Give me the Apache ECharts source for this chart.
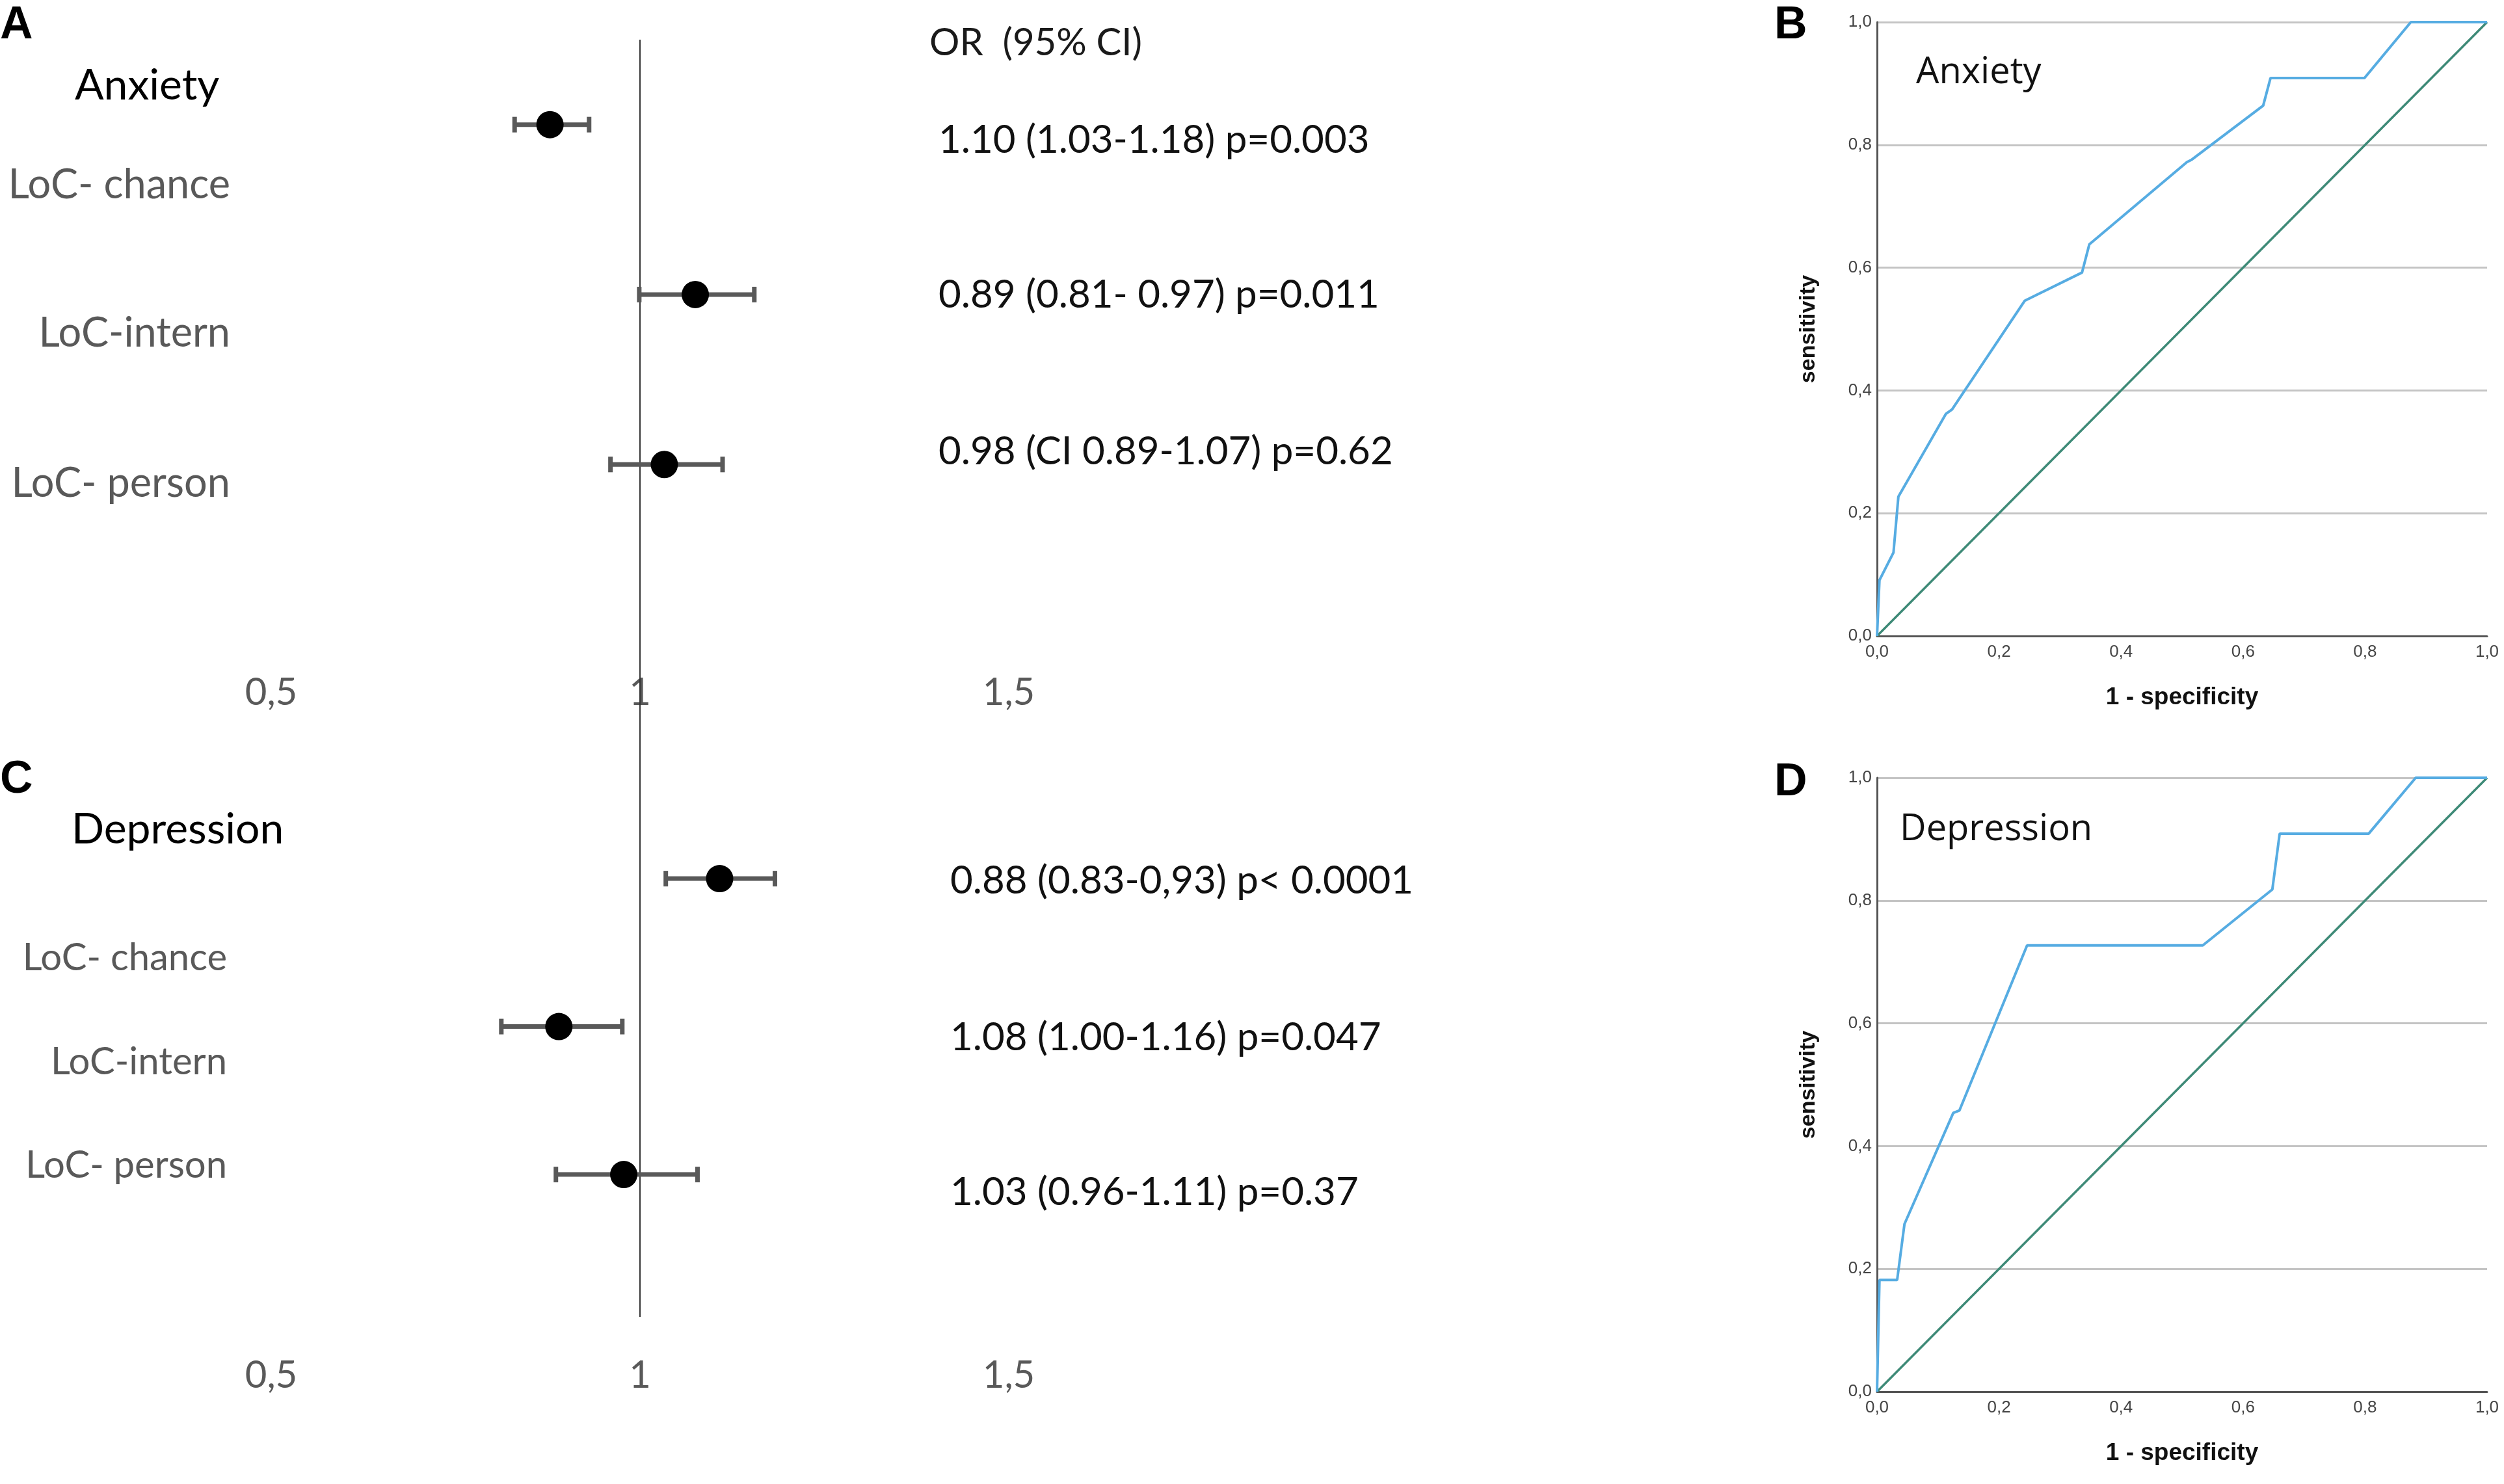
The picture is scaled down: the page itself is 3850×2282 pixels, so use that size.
<!DOCTYPE html>
<html>
<head>
<meta charset="utf-8">
<title>LoC forest plots and ROC curves</title>
<script src="https://cdn.jsdelivr.net/npm/echarts@6/dist/echarts.min.js"></script>
<style>
  html, body { margin: 0; padding: 0; background: #fff; }
  #main { width: 3850px; height: 2282px; }
</style>
</head>
<body>
<div id="main"></div>
<script>
// rows of the forest plots
var forestRows = ['LoC- chance', 'LoC-intern', 'LoC- person'];
var forestTicks = [0.5, 1, 1.5];

// panel A (anxiety) points and whiskers as drawn
var anxOr = [0.878, 1.075, 1.033];
var anxLo = [0.830, 0.999, 0.960];
var anxHi = [0.931, 1.155, 1.112];
var anxText = ['1.10 (1.03-1.18) p=0.003', '0.89 (0.81- 0.97) p=0.011', '0.98 (CI 0.89-1.07) p=0.62'];

// panel C (depression)
var depOr = [1.108, 0.890, 0.978];
var depLo = [1.035, 0.812, 0.886];
var depHi = [1.183, 0.976, 1.078];
var depText = ['0.88 (0.83-0,93) p< 0.0001', '1.08 (1.00-1.16) p=0.047', '1.03 (0.96-1.11) p=0.37'];

// ROC curves, 1 - specificity / sensitivity
var rocTicks = [0, 0.2, 0.4, 0.6, 0.8, 1];
var anxFpr = [0, 0.004, 0.027, 0.035, 0.113, 0.123, 0.242, 0.336, 0.348, 0.508, 0.516, 0.633, 0.645, 0.799, 0.875, 1];
var anxTpr = [0, 0.091, 0.136, 0.227, 0.362, 0.369, 0.546, 0.592, 0.638, 0.772, 0.776, 0.864, 0.909, 0.909, 1, 1];
var depFpr = [0, 0.004, 0.033, 0.045, 0.125, 0.135, 0.246, 0.534, 0.648, 0.660, 0.806, 0.883, 1];
var depTpr = [0, 0.182, 0.182, 0.273, 0.454, 0.458, 0.727, 0.727, 0.818, 0.909, 0.909, 1, 1];

var chart = echarts.init(document.getElementById('main'));

var lato = 'Lato, "Open Sans", sans-serif';
var arial = '"Liberation Sans", Arial, sans-serif';

function zip(a, b) {
  return a.map(function (v, i) { return [v, b[i]]; });
}
function rowsOf(arr) {
  return arr.map(function (v, i) { return [v, i + 1]; });
}
function barsOf(lo, hi) {
  return lo.map(function (v, i) { return [v, hi[i], i + 1]; });
}

// whisker with end caps
function renderWhisker(params, api) {
  var a = api.coord([api.value(0), api.value(2)]);
  var b = api.coord([api.value(1), api.value(2)]);
  var cap = 12;
  var st = { stroke: '#595959', lineWidth: 7 };
  return {
    type: 'group',
    children: [
      { type: 'line', shape: { x1: a[0], y1: a[1], x2: b[0], y2: b[1] }, style: st },
      { type: 'line', shape: { x1: a[0], y1: a[1] - cap, x2: a[0], y2: a[1] + cap }, style: st },
      { type: 'line', shape: { x1: b[0], y1: b[1] - cap, x2: b[0], y2: b[1] + cap }, style: st }
    ]
  };
}

function forestX(gridIndex, show) {
  return {
    type: 'value', gridIndex: gridIndex, min: 0.5, max: 1.5, interval: 0.5,
    axisLine: { show: false }, axisTick: { show: false }, splitLine: { show: false },
    axisLabel: {
      show: show, margin: 16, fontSize: 58, fontFamily: lato, color: '#595959',
      formatter: function (v) { return forestTicks.indexOf(v) >= 0 ? String(v).replace('.', ',') : ''; }
    }
  };
}
function hiddenY(gridIndex, min, max, inverse) {
  return {
    type: 'value', gridIndex: gridIndex, min: min, max: max, inverse: inverse,
    axisLine: { show: false }, axisTick: { show: false }, splitLine: { show: false }, axisLabel: { show: false }
  };
}
function rocLabel(v) {
  return v.toFixed(1).replace('.', ',');
}
function rocX(gridIndex) {
  return {
    type: 'value', gridIndex: gridIndex, min: 0, max: 1, interval: 0.2,
    name: '1 - specificity', nameLocation: 'middle', nameGap: 76,
    nameTextStyle: { fontSize: 37, fontWeight: 'bold', fontFamily: arial, color: '#111' },
    axisLine: { show: true, lineStyle: { color: '#555', width: 3 } },
    axisTick: { show: false }, splitLine: { show: false },
    axisLabel: { margin: 12, fontSize: 26, fontFamily: arial, color: '#444', formatter: rocLabel }
  };
}
function rocY(gridIndex) {
  return {
    type: 'value', gridIndex: gridIndex, min: 0, max: 1, interval: 0.2,
    name: 'sensitivity', nameLocation: 'middle', nameGap: 88, nameRotate: 90,
    nameTextStyle: { fontSize: 34, fontWeight: 'bold', fontFamily: arial, color: '#111' },
    axisLine: { show: true, lineStyle: { color: '#555', width: 3 } },
    axisTick: { show: false },
    splitLine: { show: true, lineStyle: { color: '#c4c4c4', width: 3 } },
    axisLabel: { margin: 8, fontSize: 26, fontFamily: arial, color: '#444', formatter: rocLabel }
  };
}

// texts of the panels
var graphics = [];
function addText(x, y, text, size, color, align, weight, family) {
  graphics.push({
    type: 'text', x: x, y: y, z: 10,
    style: {
      text: text, fontSize: size, fontFamily: family || lato, fontWeight: weight || 'normal',
      fill: color, align: align || 'left', verticalAlign: 'middle'
    }
  });
}
addText(0, 40, 'A', 70, '#000', 'left', 'bold', arial);
addText(0, 1200, 'C', 70, '#000', 'left', 'bold', arial);
addText(2728, 40, 'B', 70, '#000', 'left', 'bold', arial);
addText(2728, 1204, 'D', 70, '#000', 'left', 'bold', arial);
addText(115, 132, 'Anxiety', 66, '#000');
addText(110, 1276, 'Depression', 66, '#000');
addText(1429, 66, 'OR  (95% CI)', 58, '#1a1a1a');
addText(2946, 112, 'Anxiety', 56, '#111', 'left', 'normal', '"Open Sans", sans-serif');
addText(2921, 1276, 'Depression', 56, '#111', 'left', 'normal', '"Open Sans", sans-serif');
var anxLabelY = [285, 513, 744];
var depLabelY = [1473, 1633, 1792];
var anxTextY = [216, 454, 695];
var depTextY = [1355, 1596, 1834];
forestRows.forEach(function (name, i) {
  addText(354, anxLabelY[i], name, 63, '#595959', 'right');
  addText(349, depLabelY[i], name, 58, '#595959', 'right');
  addText(1443, anxTextY[i], anxText[i], 60, '#111');
  addText(1461, depTextY[i], depText[i], 60, '#111');
});

var option = {
  backgroundColor: '#fff',
  animation: false,
  graphic: graphics,
  grid: [
    { left: 417, width: 1134, top: 61, height: 959 },     // A
    { left: 417, width: 1134, top: 1160, height: 910 },   // C
    { left: 417, width: 1134, top: 61, height: 1964 },    // reference line at OR = 1
    { left: 2886, width: 938, top: 34, height: 944 },     // B
    { left: 2886, width: 938, top: 1196, height: 944 }    // D
  ],
  xAxis: [forestX(0, true), forestX(1, true), forestX(2, false), rocX(3), rocX(4)],
  yAxis: [
    hiddenY(0, 0.5, 4.17, true),
    hiddenY(1, 0.16, 4.16, true),
    hiddenY(2, 0, 1, false),
    rocY(3),
    rocY(4)
  ],
  series: [
    {
      type: 'line', xAxisIndex: 2, yAxisIndex: 2, data: [[1, 0], [1, 1]],
      symbol: 'none', lineStyle: { color: '#333', width: 2 }, z: 1
    },
    { type: 'custom', xAxisIndex: 0, yAxisIndex: 0, renderItem: renderWhisker, data: barsOf(anxLo, anxHi), z: 2 },
    { type: 'custom', xAxisIndex: 1, yAxisIndex: 1, renderItem: renderWhisker, data: barsOf(depLo, depHi), z: 2 },
    {
      type: 'scatter', xAxisIndex: 0, yAxisIndex: 0, data: rowsOf(anxOr),
      symbolSize: 42, itemStyle: { color: '#000', opacity: 1 }, z: 3
    },
    {
      type: 'scatter', xAxisIndex: 1, yAxisIndex: 1, data: rowsOf(depOr),
      symbolSize: 42, itemStyle: { color: '#000', opacity: 1 }, z: 3
    },
    {
      type: 'line', xAxisIndex: 3, yAxisIndex: 3, data: [[0, 0], [1, 1]],
      symbol: 'none', lineStyle: { color: '#3e8a77', width: 3.5 }
    },
    {
      type: 'line', xAxisIndex: 3, yAxisIndex: 3, data: zip(anxFpr, anxTpr),
      symbol: 'none', lineStyle: { color: '#56ace2', width: 4 }
    },
    {
      type: 'line', xAxisIndex: 4, yAxisIndex: 4, data: [[0, 0], [1, 1]],
      symbol: 'none', lineStyle: { color: '#3e8a77', width: 3.5 }
    },
    {
      type: 'line', xAxisIndex: 4, yAxisIndex: 4, data: zip(depFpr, depTpr),
      symbol: 'none', lineStyle: { color: '#56ace2', width: 4 }
    }
  ]
};
chart.setOption(option);
</script>
</body>
</html>
